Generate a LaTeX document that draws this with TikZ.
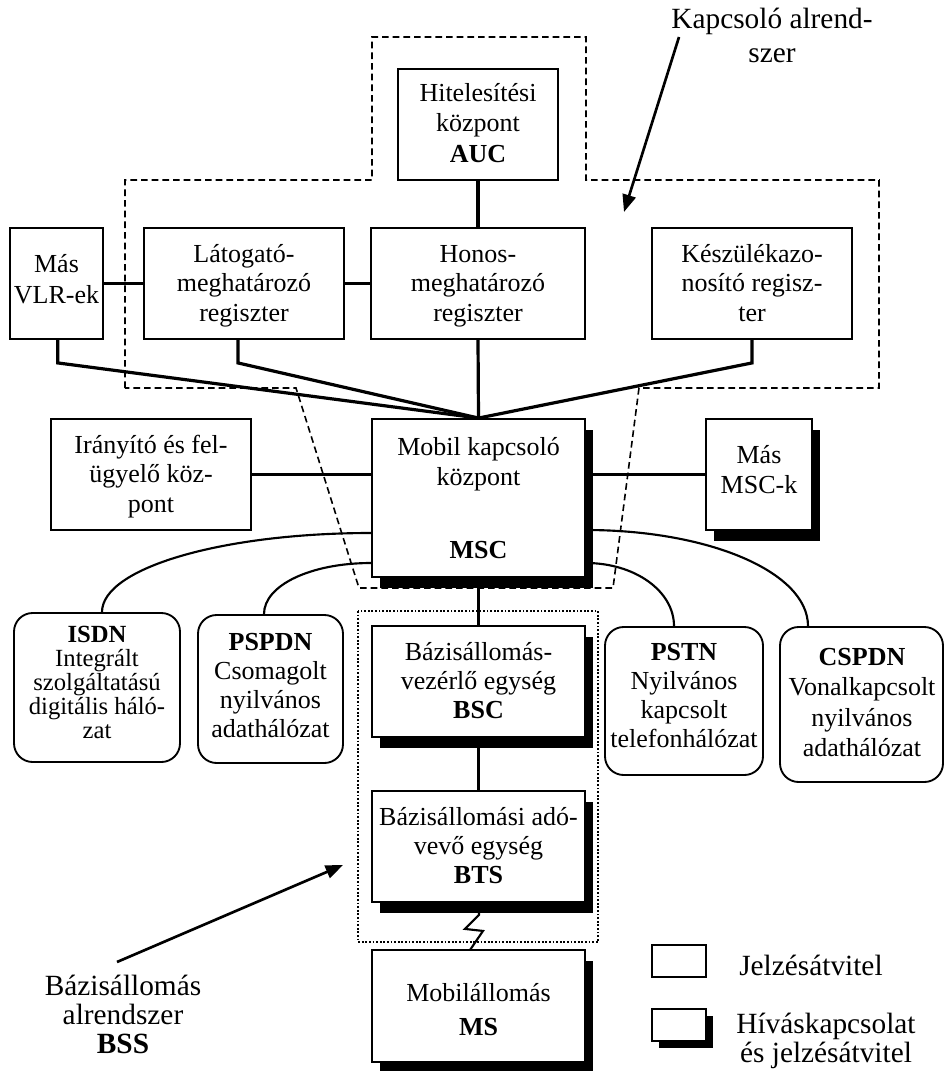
\documentclass[tikz,border=0pt]{standalone}
\usepackage{fontspec}
\setmainfont{Liberation Serif}
\usetikzlibrary{fit,shadows,arrows.meta,calc}
\newdimen\pxu \pxu=0.75pt
\newcommand\txtlines[3]{{\fontsize{#1}{#1}\selectfont\vtop{\baselineskip=#2\pxu\lineskiplimit=-\maxdimen\lineskip=0pt\halign{\hfil##\hfil\cr#3\crcr}}}}
\pgfdeclarelayer{bg}
\pgfsetlayers{bg,main}
\tikzset{
  box/.style={draw, line width=1.4pt, fill=white, inner sep=0pt},
  shbox/.style={box, drop shadow={shadow xshift=6pt, shadow yshift=-8.5pt, opacity=1, fill=black}},
  rbox/.style={box, rounded corners=14pt},
  txt/.style={anchor=base, inner sep=0pt},
  thickconn/.style={line width=2.4pt},
  thinconn/.style={line width=1.6pt},
  subsys/.style={line width=1.2pt, dash pattern=on 5pt off 3pt},
  bssbox/.style={line width=1.8pt, dash pattern=on 1.4pt off 1.3pt},
  pointer/.style={line width=2pt, -{Triangle[length=13pt,width=10pt]}},
}
\begin{document}
\begin{tikzpicture}[x=0.75pt, y=-0.75pt]
\useasboundingbox (0,0) rectangle (945,1071);

% boxes
\node[box, fit={(398,69) (558,180)}] (auc) {};
\node[box, fit={(10,228) (103,339)}] (vlrs) {};
\node[box, fit={(144,228) (344,339)}] (vlr) {};
\node[box, fit={(371,228) (585,339)}] (hlr) {};
\node[box, fit={(652,228) (852,339)}] (eir) {};
\node[box, fit={(51,419) (251,530)}] (omc) {};
\node[shbox, fit={(372,419) (585,577)}] (msc) {};
\node[shbox, fit={(706,419) (812,530)}] (mmsc) {};
\node[rbox, fit={(14,613) (180,762)}] (isdn) {};
\node[rbox, fit={(198,615) (343,763)}] (pspdn) {};
\node[rbox, fit={(605,627) (763,775)}] (pstn) {};
\node[rbox, fit={(780,627) (943,782)}] (cspdn) {};
\node[shbox, fit={(372,626) (585,737)}] (bsc) {};
\node[shbox, fit={(372,791) (585,902)}] (bts) {};
\node[shbox, fit={(372,950) (585,1062)}] (ms) {};
\node[box, fit={(652,945) (706,977)}] (leg1) {};
\node[box, drop shadow={shadow xshift=5pt, shadow yshift=-5pt, opacity=1, fill=black}, fit={(652,1009) (706,1041)}] (leg2) {};

% texts
\node[txt] (t-auc) at (478,101) {\txtlines{19.5}{30.5}{Hitelesítési\cr központ\cr \textbf{AUC}}};
\node[txt] (t-vlrs) at (56.5,272) {\txtlines{19.5}{31}{Más\cr VLR-ek}};
\node[txt] (t-vlr) at (244,262) {\txtlines{19.5}{29.5}{Látogató-\cr meghatározó\cr regiszter}};
\node[txt] (t-hlr) at (478,262) {\txtlines{19.5}{29.5}{Honos-\cr meghatározó\cr regiszter}};
\node[txt] (t-eir) at (752,262) {\txtlines{19.5}{29.5}{Készülékazo-\cr nosító regisz-\cr ter}};
\node[txt] (t-omc) at (151,453) {\txtlines{19.5}{29.5}{Irányító és fel-\cr ügyelő köz-\cr pont}};
\node[txt] (t-msc) at (478.5,455) {\txtlines{19.5}{30}{Mobil kapcsoló\cr központ}};
\node[txt] (t-msc2) at (478.5,558) {\txtlines{19.5}{30}{\textbf{MSC}}};
\node[txt] (t-mmsc) at (759,463) {\txtlines{19.5}{30}{Más\cr MSC-k}};
\node[txt] (t-isdn) at (97,642) {\txtlines{18.5}{24}{\textbf{ISDN}\cr Integrált\cr szolgáltatású\cr digitális háló-\cr zat}};
\node[txt] (t-pspdn) at (270.5,650) {\txtlines{19.5}{29}{\textbf{PSPDN}\cr Csomagolt\cr nyilvános\cr adathálózat}};
\node[txt] (t-pstn) at (684,660) {\txtlines{19.5}{29}{\textbf{PSTN}\cr Nyilvános\cr kapcsolt\cr telefonhálózat}};
\node[txt] (t-cspdn) at (862,665) {\txtlines{19.5}{30.5}{\textbf{CSPDN}\cr Vonalkapcsolt\cr nyilvános\cr adathálózat}};
\node[txt] (t-bsc) at (478.5,660) {\txtlines{19.5}{29}{Bázisállomás-\cr vezérlő egység\cr \textbf{BSC}}};
\node[txt] (t-bts) at (478.5,825) {\txtlines{19.5}{29}{Bázisállomási adó-\cr vevő egység\cr \textbf{BTS}}};
\node[txt] (t-ms) at (478.5,1001) {\txtlines{19.5}{34}{Mobilállomás\cr \textbf{MS}}};
\node[txt] (t-bss) at (123,995) {\txtlines{22}{29}{Bázisállomás\cr alrendszer\cr \textbf{BSS}}};
\node[txt] (t-kapcs) at (772,28) {\txtlines{22}{34}{Kapcsoló alrend-\cr szer}};
\node[txt, anchor=base west] (t-leg1) at (739,975) {\fontsize{22}{22}\selectfont Jelzésátvitel};
\node[txt] (t-leg2) at (826,1033) {\txtlines{22}{29}{Híváskapcsolat\cr és jelzésátvitel}};

\coordinate (ka-tail) at (679,37);
\coordinate (ka-tip) at (624,212);
\coordinate (bss-tail) at (117,962);
\coordinate (bss-tip) at (343,865);

\begin{pgfonlayer}{bg}
  % switching subsystem outline
  \draw[subsys] (125,388) -- (125,180) -- (372,180) -- (372,37) -- (586,37) -- (586,180)
     -- (879,180) -- (879,388) -- (639,388) -- (613,588) -- (359,588) -- (296,388) -- cycle;
  % BSS outline
  \draw[bssbox] (358,611) rectangle (598,942);
  % thick connectors
  \draw[thickconn] (auc.south) -- (hlr.north);
  \draw[thickconn] (vlrs.east) -- (vlr.west);
  \draw[thickconn] (vlr.east) -- (hlr.west);
  \draw[thickconn] (hlr.south) -- (msc.north);
  \draw[thickconn] ([xshift=1pt]vlrs.south) -- ++(0,23) -- (msc.north);
  \draw[thickconn] ([xshift=-4.5pt]vlr.south) -- ++(0,23) -- (msc.north);
  \draw[thickconn] (eir.south) -- ++(0,23) -- (msc.north);
  \draw[thickconn] (msc.south) -- (bsc.north);
  \draw[thickconn] (bsc.south) -- (bts.north);
  % thin connectors
  \draw[thinconn] (omc.east) -- (omc.east -| msc.west);
  \draw[thinconn] (mmsc.west -| msc.east) -- (mmsc.west);
  \draw[thinconn] (msc.west |- 0,533) .. controls +(-149,0) and +(0,-44) .. ($(isdn.north)+(5,0)$);
  \draw[thinconn] (msc.west |- 0,563) .. controls +(-60,0) and +(0,-29) .. ($(pspdn.north)+(-6.5,0)$);
  \draw[thinconn] (msc.east |- 0,563) .. controls +(49,0) and +(0,-35) .. ($(pstn.north)+(-10,0)$);
  \draw[thinconn] (msc.east |- 0,530) .. controls +(123,0) and +(0,-54) .. ($(cspdn.north)+(-53.5,0)$);
  % radio link
  \draw[thinconn, line join=miter] (bts.south) -- ++(0.5,12) -- ++(-14,14) -- ++(18,2) -- ++(-15,22);
\end{pgfonlayer}

% pointer arrows
\draw[pointer] (ka-tail) -- (ka-tip);
\draw[pointer] (bss-tail) -- (bss-tip);
\end{tikzpicture}
\end{document}
